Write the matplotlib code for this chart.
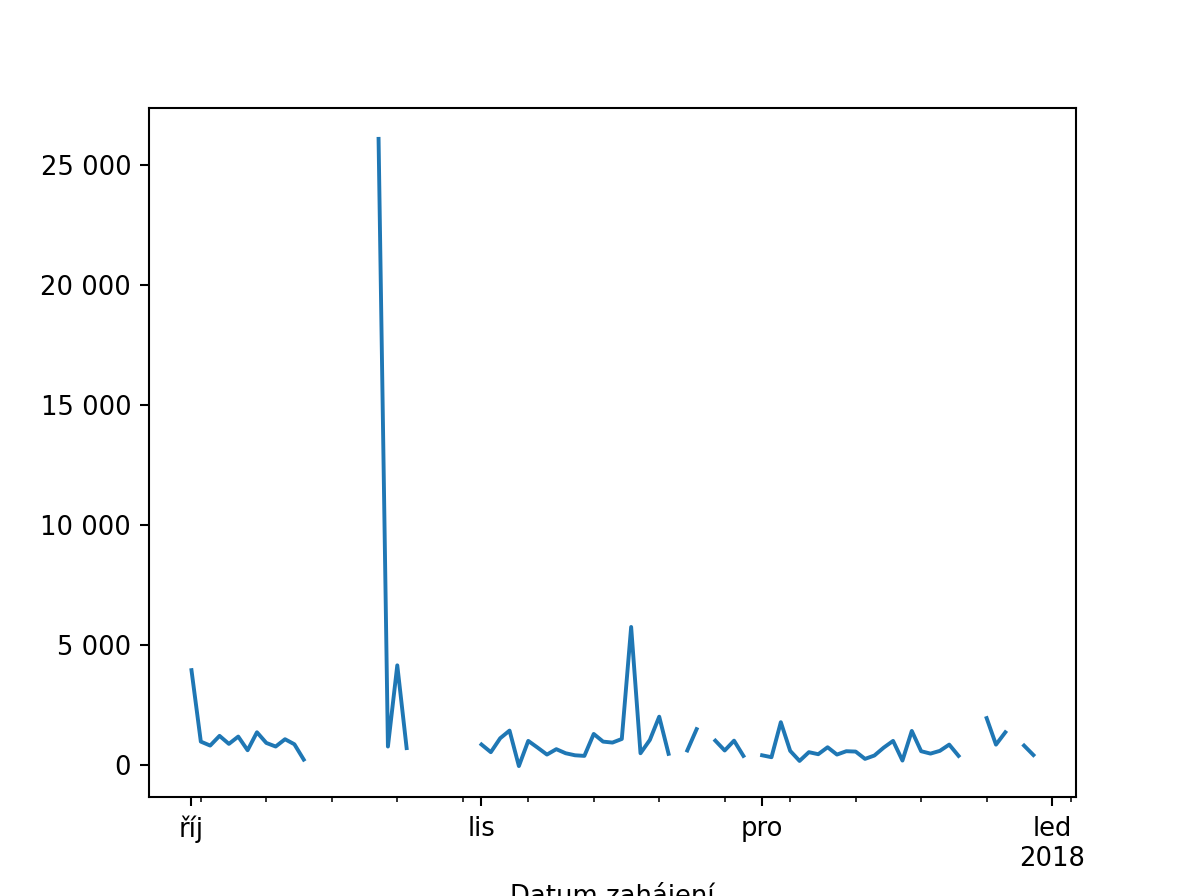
import numpy as np
import pandas as pd
import matplotlib
matplotlib.use("Agg")
import matplotlib.pyplot as plt
import matplotlib.dates as mdates
from matplotlib.ticker import FuncFormatter, FixedLocator

nan = np.nan
dates = pd.date_range("2017-10-01", "2017-12-30", freq="D")

october = [3950, 970, 805, 1210, 875, 1180, 610, 1360, 915, 765, 1070, 860, 220,
           nan, nan, nan, nan, nan, nan, nan,
           26100, 765, 4150, 700,
           nan, nan, nan, nan, nan, nan, nan]
november = [850, 530, 1110, 1430, -50, 1000, 720, 430, 655, 485, 400, 375, 1290,
            970, 930, 1080, 5750, 485, 1040, 2010, 460,
            nan, 600, 1490, nan, 1010, 600, 1010, 375, nan]
december = [400, 320, 1780, 585, 165, 530, 445, 735, 430, 570, 555, 250, 390,
            720, 1000, 180, 1415, 570, 470, 585, 845, 375,
            nan, nan, 1950, 845, 1360, nan, 805, 410]
values = october + november + december

major_dates = ["2017-10-01", "2017-11-01", "2017-12-01", "2018-01-01"]
major_labels = ["říj", "lis", "pro", "led\n2018"]
minor_dates = ["2017-10-02", "2017-10-09", "2017-10-16", "2017-10-23", "2017-10-30",
               "2017-11-06", "2017-11-13", "2017-11-20", "2017-11-27",
               "2017-12-04", "2017-12-11", "2017-12-18", "2017-12-25", "2018-01-03"]

fig, ax = plt.subplots(figsize=(1195 / 186.7, 896 / 186.7), dpi=186.7)
x = mdates.date2num(dates.to_pydatetime())
ax.plot(x, values, color="#1f77b4", linewidth=1.5)

ax.xaxis.set_major_locator(FixedLocator(mdates.date2num(pd.to_datetime(major_dates).to_pydatetime())))
ax.set_xticklabels(major_labels)
ax.xaxis.set_minor_locator(FixedLocator(mdates.date2num(pd.to_datetime(minor_dates).to_pydatetime())))
ax.tick_params(axis="x", which="major", labelsize=10)

ax.yaxis.set_major_formatter(FuncFormatter(lambda v, p: f"{v:,.0f}".replace(",", " ")))
ax.set_xlabel("Datum zahájení")

fig.savefig("out.png", dpi=186.7)
